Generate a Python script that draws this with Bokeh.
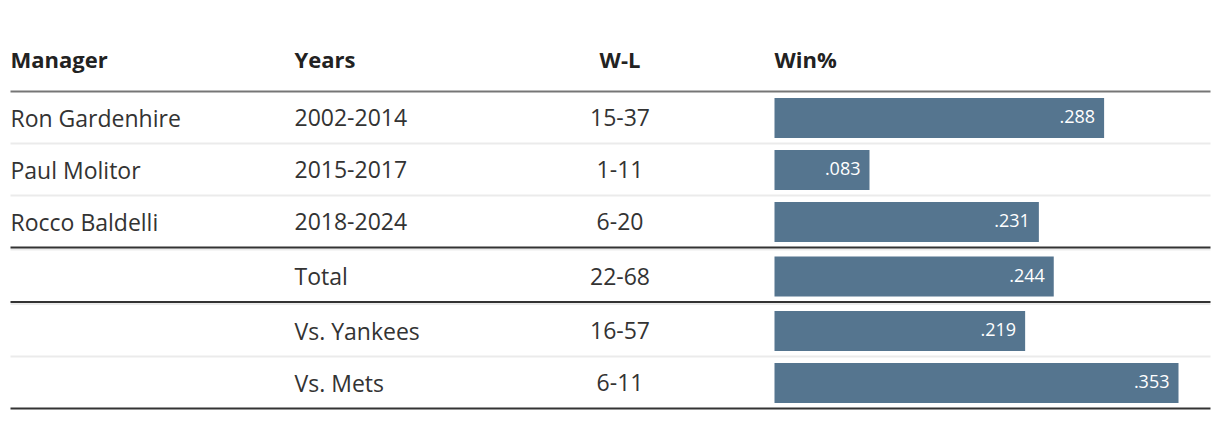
from bokeh.plotting import figure
from bokeh.models import Range1d, ColumnDataSource
from bokeh.embed import file_html
from bokeh.resources import INLINE
from bokeh.core.properties import value

# ---- data ----
managers = ["Ron Gardenhire", "Paul Molitor", "Rocco Baldelli", "", "", ""]
years = ["2002-2014", "2015-2017", "2018-2024", "Total", "Vs. Yankees", "Vs. Mets"]
wl = ["15-37", "1-11", "6-20", "22-68", "16-57", "6-11"]
win_pct = [0.288, 0.083, 0.231, 0.244, 0.219, 0.353]
win_labels = [".288", ".083", ".231", ".244", ".219", ".353"]
groups = [0, 0, 0, 1, 2, 2]
headers = ["Manager", "Years", "W-L", "Win%"]

# ---- layout (page pixels) ----
W, H = 1212, 414
col_manager = 10
col_years = 294
col_wl = 619.5
col_win = 774
bar_max_px = 1178
line_left, line_right = 10, 1210
FONT = "Open Sans"
BODY_SIZE = "23px"
HEAD_SIZE = "22px"
TEXT_COLOR = "#333333"
BAR_COLOR = "#55758f"

row_centers = [117.5 + i * 52 + 2.5 * g for i, g in enumerate(groups)]
header_base = 58

p = figure(width=W, height=H, output_backend="svg", toolbar_location=None,
           x_range=Range1d(0, W), y_range=Range1d(H, 0),
           min_border=0, min_border_left=0, min_border_right=0,
           min_border_top=0, min_border_bottom=0)
p.axis.visible = False
p.grid.visible = False
p.outline_line_color = None
p.background_fill_color = "white"
p.border_fill_color = "white"

# bar scale: 0 at col_win, max value at bar_max_px
k = (bar_max_px - col_win) / max(win_pct)
p.extra_x_ranges = {"pct": Range1d(-col_win / k, (W - col_win) / k)}

# headers
hx = [col_manager, col_years, col_wl, col_win]
halign = ["left", "left", "center", "left"]
p.text(x=hx, y=[header_base] * 4, text=headers, text_align=halign,
       text_baseline="alphabetic", text_font=value(FONT), text_font_style="bold",
       text_font_size=HEAD_SIZE, text_color="#222222")

# header rule
p.segment(x0=[line_left], x1=[line_right], y0=[91], y1=[91],
          line_color="#767676", line_width=2)

# row separators
last = len(groups) - 1
light_y, dark_y = [], []
for i, c in enumerate(row_centers):
    if i == last:
        dark_y.append(c + 25.5)
    elif groups[i] != groups[i + 1]:
        dark_y.append(c + 25.5)
        light_y.append(c + 27.5)
    else:
        light_y.append(c + 25.5)
p.segment(x0=[line_left] * len(light_y), x1=[line_right] * len(light_y),
          y0=light_y, y1=light_y, line_color="#ebebeb", line_width=2)
p.segment(x0=[line_left] * len(dark_y), x1=[line_right] * len(dark_y),
          y0=dark_y, y1=dark_y, line_color="#333333", line_width=2)

src = ColumnDataSource(dict(
    manager=managers, years=years, wl=wl, win=win_pct, label=win_labels,
    yc=row_centers, ybase=[c - 0.5 for c in row_centers],
    ylab=[c - 1.5 for c in row_centers],
    zero=[0] * len(win_pct),
))

# bars
p.hbar(y="yc", left="zero", right="win", height=40, source=src,
       x_range_name="pct", fill_color=BAR_COLOR, line_color=None)

# bar labels
p.text(x="win", y="ylab", text="label", source=src, x_range_name="pct",
       x_offset=-9, text_align="right", text_baseline="alphabetic",
       text_font=value(FONT), text_font_size="18px", text_color="white")

# body text
p.text(x=col_manager, y="ybase", text="manager", source=src, text_align="left",
       text_baseline="alphabetic", text_font=value(FONT),
       text_font_size=BODY_SIZE, text_color=TEXT_COLOR)
p.text(x=col_years, y="ybase", text="years", source=src, text_align="left",
       text_baseline="alphabetic", text_font=value(FONT),
       text_font_size=BODY_SIZE, text_color=TEXT_COLOR)
p.text(x=col_wl, y="ybase", text="wl", source=src, text_align="center",
       text_baseline="alphabetic", text_font=value(FONT),
       text_font_size=BODY_SIZE, text_color=TEXT_COLOR)

open("out.html", "w").write(file_html(p, INLINE))
